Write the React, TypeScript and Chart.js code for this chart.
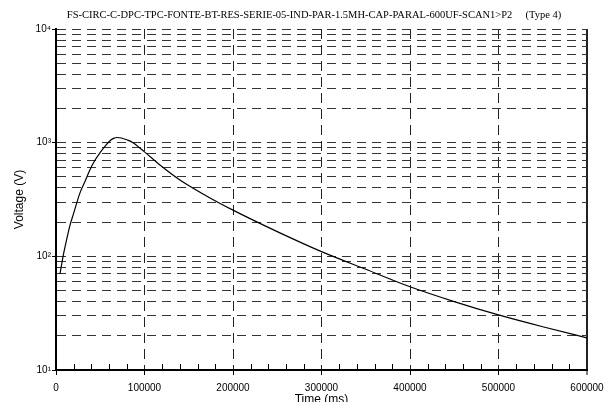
import React, { useEffect, useRef } from "react";
import { Chart, registerables } from "chart.js";

Chart.register(...registerables);

const chartTitle = "FS-CIRC-C-DPC-TPC-FONTE-BT-RES-SERIE-05-IND-PAR-1.5MH-CAP-PARAL-600UF-SCAN1>P2     (Type 4)";
const xAxisTitle = "Time (ms)";
const yAxisTitle = "Voltage (V)";

const timeMs = [4500, 8000, 12000, 16000, 20000, 27000, 33000, 38000, 44000, 50000, 56000, 61000, 65000, 69000, 74000, 80000, 87000, 100000, 117500, 140000, 170000, 200000, 250000, 300000, 350000, 400000, 450000, 500000, 550000, 600000];
const voltage = [70, 100, 140, 190, 240, 360, 460, 570, 700, 820, 940, 1040, 1090, 1110, 1100, 1060, 1000, 830, 635, 469, 340, 255, 165, 110, 77, 54, 40, 30.5, 24, 19.2];

const xMinorTickValues = [20000, 40000, 60000, 80000, 120000, 140000, 160000, 180000, 220000, 240000, 260000, 280000, 320000, 340000, 360000, 380000, 420000, 440000, 460000, 480000, 520000, 540000, 560000, 580000];
const yTickValues = [10, 20, 30, 40, 50, 60, 70, 80, 90, 100, 200, 300, 400, 500, 600, 700, 800, 900, 1000, 2000, 3000, 4000, 5000, 6000, 7000, 8000, 9000, 10000];
const yDecadeLabels: Record<number, string> = { 10: "10\u00B9", 100: "10\u00B2", 1000: "10\u00B3", 10000: "10\u2074" };

const isDecade = (v: number) => yDecadeLabels[v] !== undefined;

export default function App() {
  const ref = useRef<HTMLCanvasElement | null>(null);

  useEffect(() => {
    if (!ref.current) return;
    const titlePlugin = {
      id: "customTitle",
      afterDraw(chart: any) {
        const ctx = chart.ctx;
        ctx.save();
        ctx.fillStyle = "#000";
        ctx.font = '10.5px "Liberation Serif"';
        ctx.textAlign = "center";
        ctx.textBaseline = "middle";
        ctx.fillText(chartTitle, 314, 15);
        ctx.restore();
      },
    };
    const minorTicks = {
      id: "minorTicks",
      afterDraw(chart: any) {
        const ctx = chart.ctx;
        const xs = chart.scales.x;
        const bottom = chart.chartArea.bottom;
        ctx.save();
        ctx.strokeStyle = "#000";
        ctx.lineWidth = 1;
        ctx.beginPath();
        for (const v of xMinorTickValues) {
          const px = Math.round(xs.getPixelForValue(v)) + 0.5;
          ctx.moveTo(px, bottom);
          ctx.lineTo(px, bottom - 6);
        }
        ctx.stroke();
        ctx.restore();
      },
    };
    const chart = new Chart(ref.current, {
      type: "line",
      data: {
        datasets: [
          {
            data: timeMs.map((t, i) => ({ x: t, y: voltage[i] })),
            borderColor: "#000",
            borderWidth: 1.2,
            pointRadius: 0,
            fill: false,
            cubicInterpolationMode: "monotone",
          },
        ],
      },
      options: {
        animation: false,
        responsive: false,
        devicePixelRatio: 1,
        layout: { padding: { top: 29, right: 18, left: 0, bottom: 0 } },
        plugins: {
          legend: { display: false },
          title: { display: false },
          tooltip: { enabled: false },
        },
        scales: {
          x: {
            type: "linear",
            min: 0,
            max: 600000,
            afterFit: (s: any) => {
              s.height = 32;
              s.paddingLeft = 0;
              s.paddingRight = 0;
            },
            ticks: {
              stepSize: 100000,
              autoSkip: false,
              maxRotation: 0,
              padding: 7,
              color: "#000",
              font: { family: '"Liberation Sans"', size: 10 },
              callback: (v: any) => String(v),
            },
            grid: {
              color: "#222",
              lineWidth: (c: any) => (c.tick && c.tick.value === 600000 ? 2 : 1),
              tickLength: 5,
              tickColor: "#000",
              tickWidth: 1,
            },
            border: {
              display: true,
              color: "#000",
              width: 2,
              dash: (c: any) => (c.tick && c.tick.value === 600000 ? [] : [10, 6]),
            },
            title: {
              display: true,
              text: xAxisTitle,
              color: "#000",
              font: { family: '"Liberation Sans"', size: 12 },
              padding: { top: 0, bottom: -5 },
            },
          },
          y: {
            type: "logarithmic",
            min: 10,
            max: 10000,
            afterFit: (s: any) => {
              s.width = 56;
              s.paddingTop = 0;
              s.paddingBottom = 0;
            },
            afterBuildTicks: (s: any) => {
              s.ticks = yTickValues.map((v) => ({ value: v }));
            },
            ticks: {
              autoSkip: false,
              padding: 1,
              color: "#000",
              font: { family: '"Liberation Sans"', size: 10 },
              callback: (v: any) => (isDecade(v) ? yDecadeLabels[v] : ""),
            },
            grid: {
              color: "#333",
              lineWidth: 1,
              tickLength: 4,
              tickColor: (c: any) => (c.tick && isDecade(c.tick.value) ? "#000" : "rgba(0,0,0,0)"),
              tickWidth: 1,
            },
            border: {
              display: true,
              color: "#000",
              width: 2,
              dash: [9, 6],
            },
            title: {
              display: true,
              text: yAxisTitle,
              color: "#000",
              font: { family: '"Liberation Sans"', size: 12 },
              padding: { top: 12, bottom: 0 },
            },
          },
        },
      },
      plugins: [titlePlugin, minorTicks],
    } as any);
    return () => chart.destroy();
  }, []);

  return (
    <div style={{ position: "fixed", left: 0, top: 0, width: 605, height: 402, background: "#fff" }}>
      <canvas ref={ref} width={605} height={402} style={{ display: "block" }} />
    </div>
  );
}
